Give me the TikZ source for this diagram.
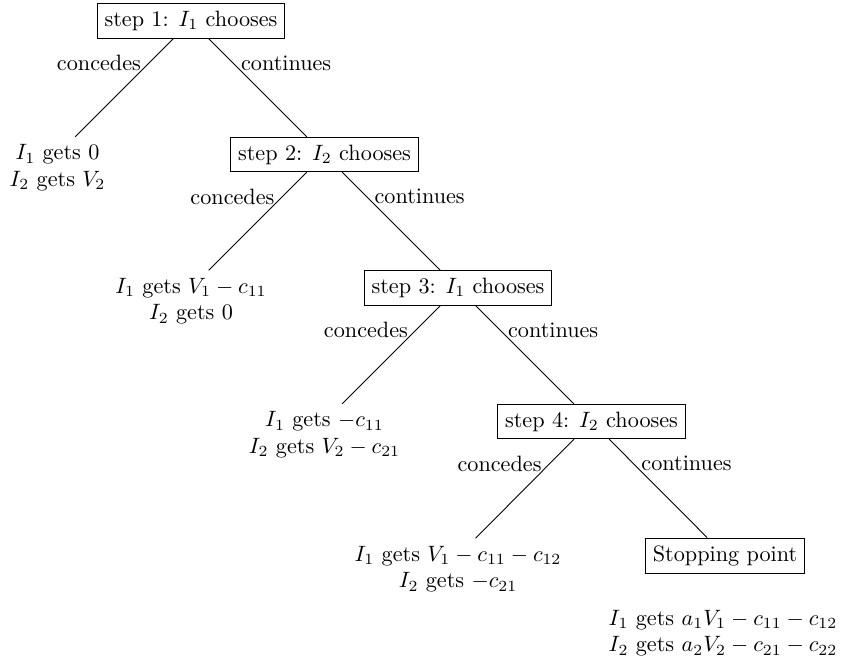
\documentclass[tikz,border=0pt]{standalone}
\begin{document}
\begin{tikzpicture}[x=0.4505pt,y=-0.4505pt,
  stepbox/.style={draw,rectangle,line width=0.4pt},
  leafline/.style={},
  secondline/.style={anchor=base,yshift=-12pt},
  conn/.style={line width=0.4pt}]
\useasboundingbox (0,0) rectangle (845,664);
% decision nodes
\node[stepbox] (s1) at (191,21) {step 1: $I_1$ chooses};
\node[stepbox] (s2) at (324.5,154.5) {step 2: $I_2$ chooses};
\node[stepbox] (s3) at (458,288) {step 3: $I_1$ chooses};
\node[stepbox] (s4) at (591.5,421.5) {step 4: $I_2$ chooses};
\node[stepbox] (stop) at (725,555.5) {Stopping point};
% outcomes
\node[leafline] (l1) at (57.5,154.5) {$I_1$ gets $0$};
\node[secondline] (l1b) at (l1.base) {$I_2$ gets $V_2$};
\node[leafline] (l2) at (191,288) {$I_1$ gets $V_1 - c_{11}$};
\node[secondline] (l2b) at (l2.base) {$I_2$ gets $0$};
\node[leafline] (l3) at (324.5,421.5) {$I_1$ gets $-c_{11}$};
\node[secondline] (l3b) at (l3.base) {$I_2$ gets $V_2 - c_{21}$};
\node[leafline] (l4) at (458,556) {$I_1$ gets $V_1 - c_{11} - c_{12}$};
\node[secondline] (l4b) at (l4.base) {$I_2$ gets $-c_{21}$};
\node[leafline] (l5) at (723,620) {$I_1$ gets $a_1V_1 - c_{11} - c_{12}$};
\node[secondline] (l5b) at (l5.base) {$I_2$ gets $a_2V_2 - c_{21} - c_{22}$};
% connectors
\draw[conn] (s1) -- node[left,near start]{concedes} (l1);
\draw[conn] (s1) -- node[right,near start]{continues} (s2);
\draw[conn] (s2) -- node[left,near start]{concedes} (l2);
\draw[conn] (s2) -- node[right,near start]{continues} (s3);
\draw[conn] (s3) -- node[left,near start]{concedes} (l3);
\draw[conn] (s3) -- node[right,near start]{continues} (s4);
\draw[conn] (s4) -- node[left,near start]{concedes} (l4);
\draw[conn] (s4) -- node[right,near start]{continues} (stop);
\end{tikzpicture}
\end{document}
